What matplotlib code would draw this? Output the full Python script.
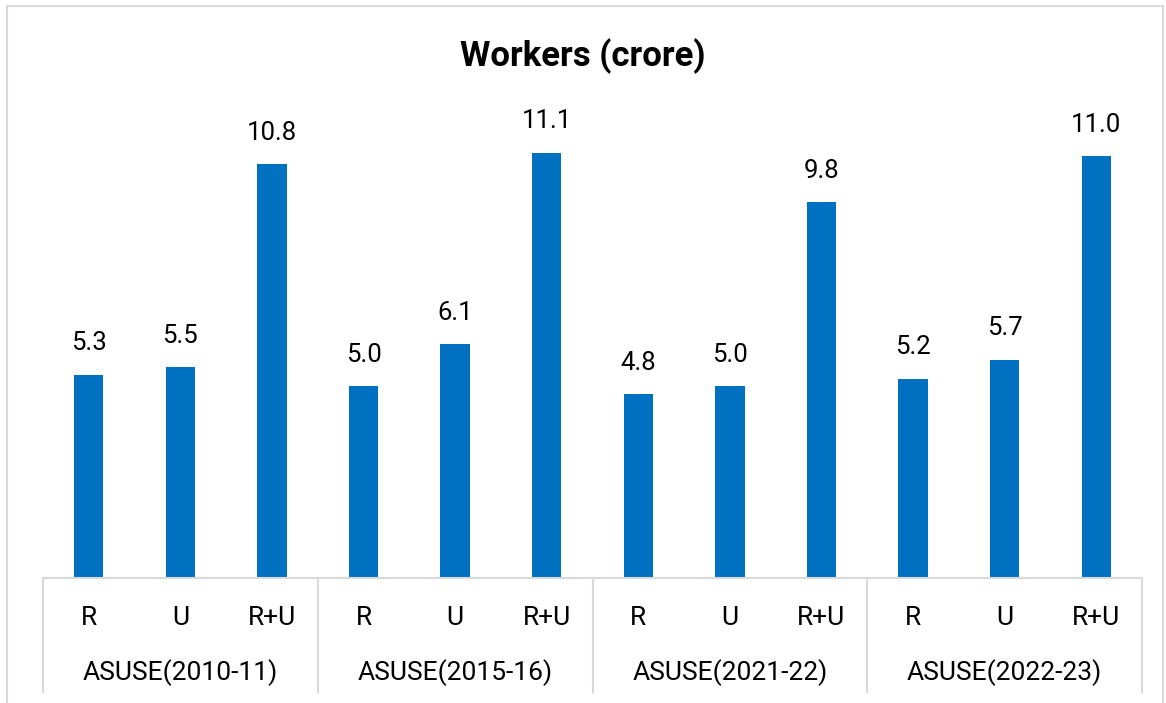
import matplotlib
matplotlib.use("Agg")
import matplotlib.pyplot as plt
from matplotlib.lines import Line2D
from matplotlib.patches import Rectangle

plt.rcParams['font.family'] = ['Roboto', 'DejaVu Sans']

surveys = ["ASUSE(2010-11)", "ASUSE(2015-16)", "ASUSE(2021-22)", "ASUSE(2022-23)"]
areas = ["R", "U", "R+U"]
workers = [
    [5.3, 5.5, 10.8],
    [5.0, 6.1, 11.1],
    [4.8, 5.0, 9.8],
    [5.2, 5.7, 11.0],
]

W, H = 1166, 703
fig = plt.figure(figsize=(W / 100, H / 100), dpi=100)
fig.patches.append(Rectangle((7 / W, -0.01), (1163 - 7) / W, (H - 6) / H + 0.01,
                             transform=fig.transFigure, fill=False,
                             edgecolor="#D9D9D9", linewidth=1.5))

left, right, base, top = 43, 1142, 578, 118
ax = fig.add_axes([left / W, (H - base) / H, (right - left) / W, (base - top) / H])

vals = [v for grp in workers for v in grp]
xs = list(range(len(vals)))
bars = ax.bar(xs, vals, width=0.32, color="#0070C0")
for b, v in zip(bars, vals):
    ax.annotate(f"{v:.1f}", (b.get_x() + b.get_width() / 2, v),
                xytext=(0, 14), textcoords="offset points",
                ha="center", va="bottom", fontsize=18.5)

ax.set_xlim(-0.5, len(vals) - 0.5)
ax.set_ylim(0, 12)
ax.set_yticks([])
for s in ["top", "right", "left"]:
    ax.spines[s].set_visible(False)
ax.spines["bottom"].set_color("#D9D9D9")
ax.spines["bottom"].set_linewidth(1.5)
ax.set_xticks(xs)
ax.set_xticklabels(areas * len(surveys), fontsize=19)
ax.tick_params(axis="x", length=0, pad=20)

# group separators and labels below the axis
sep_depth = (692 - base) / (base - top)
n = len(vals)
for g in range(len(surveys) + 1):
    xa = g * 3 / n
    ax.add_line(Line2D([xa, xa], [0, -sep_depth], transform=ax.transAxes,
                       color="#D9D9D9", linewidth=1.5, clip_on=False))
for g, name in enumerate(surveys):
    ax.text((g * 3 + 1.5) / n, -(673 - base) / (base - top), name,
            transform=ax.transAxes, ha="center", va="center", fontsize=19)

fig.text(0.5, (H - 56) / H, "Workers (crore)", ha="center", va="center",
         fontsize=25, fontweight="bold")

fig.savefig("out.png", dpi=100)
